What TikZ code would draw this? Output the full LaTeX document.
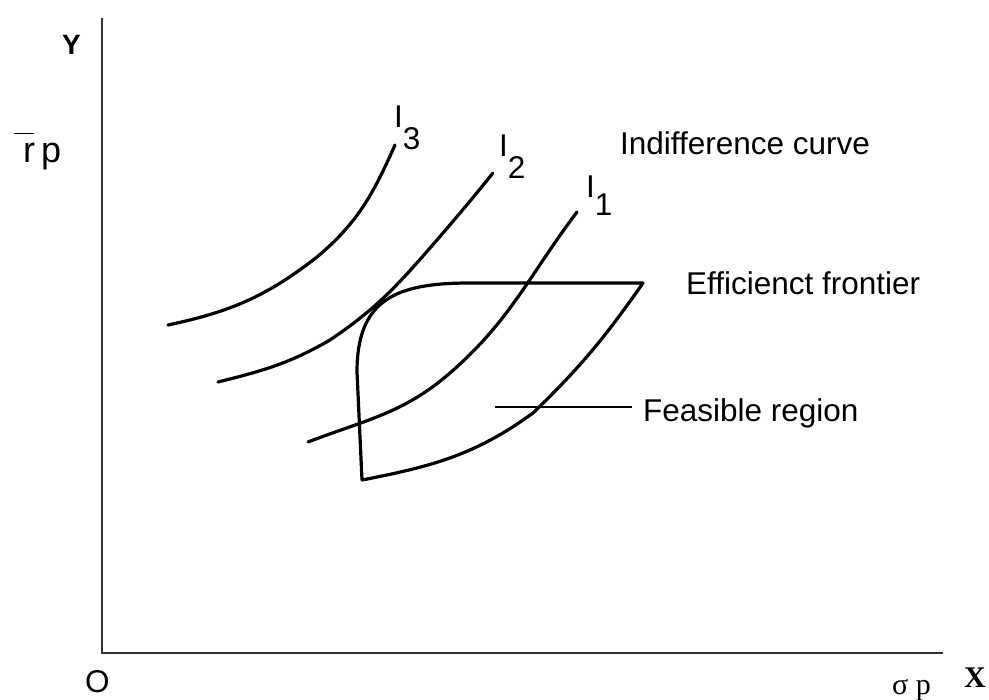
\documentclass[tikz,border=0pt]{standalone}
\usepackage{fontspec}
\setmainfont{Liberation Sans}
\newfontfamily\serifx{Liberation Serif}
\begin{document}
\begin{tikzpicture}[x=1pt,y=-1pt,
  curve/.style={line width=3.2pt,line join=round,line cap=round},
  axis/.style={line width=2pt,draw=black!80},
  lbl/.style={inner sep=0pt,anchor=base west,font=\fontsize{31.5}{36}\selectfont}]
\useasboundingbox (0,0) rectangle (989,700);
% axes
\coordinate (top) at (102,18);
\coordinate (orig) at (102,653);
\coordinate (xend) at (943,653);
\draw[axis] (top) -- (orig) -- (xend);
% axis labels
\node[lbl,font=\fontsize{28}{32}\selectfont\bfseries] (ylab) at (62,55) {Y};
\node[lbl,font=\fontsize{36}{40}\selectfont] (rp) at (23,163) {\rlap{\hspace{-9pt}\rule[29pt]{20pt}{1.3pt}}r\hspace{6pt}p};
\node[lbl] (olab) at (85,692) {O};
\node[lbl,font=\fontsize{30}{34}\serifx] (sp) at (892,694) {σ p};
\node[lbl,font=\fontsize{30}{34}\serifx\bfseries] (xlab) at (964,688) {X};
% indifference curves
\draw[curve] (168,325) to[out=12,in=-142] (317,257) to[out=40,in=-114] (395,145);
\draw[curve] (218,382) to[out=14,in=-150] (330,340) to[out=34,in=-131] (430,248) to[out=49,in=-129] (493,173);
\draw[curve] (308,442) to[out=21,in=-139] (450,373) to[out=41,in=-127] (577,212);
% feasible region
\draw[curve] (362,480) -- (357,372) to[out=90,in=180,looseness=1.3] (470,283) -- (643,283)
  to[out=235,in=44] (533,413) to[out=216,in=11] (362,480);
% curve labels
\node[lbl] (i3) at (394,128) {I\raisebox{-22pt}{3}};
\node[lbl] (i2) at (499,157) {I\raisebox{-22pt}{2}};
\node[lbl] (i1) at (586,198) {I\raisebox{-18pt}{1}};
\node[lbl] (indiff) at (620,155) {Indifference curve};
\node[lbl] (eff) at (686,295) {Efficienct frontier};
\node[lbl] (feas) at (643,422) {Feasible region};
\coordinate (lead) at (495,407);
\draw[line width=1.5pt,shorten >=11pt] (lead) -- (lead -| feas.west);
\end{tikzpicture}
\end{document}
